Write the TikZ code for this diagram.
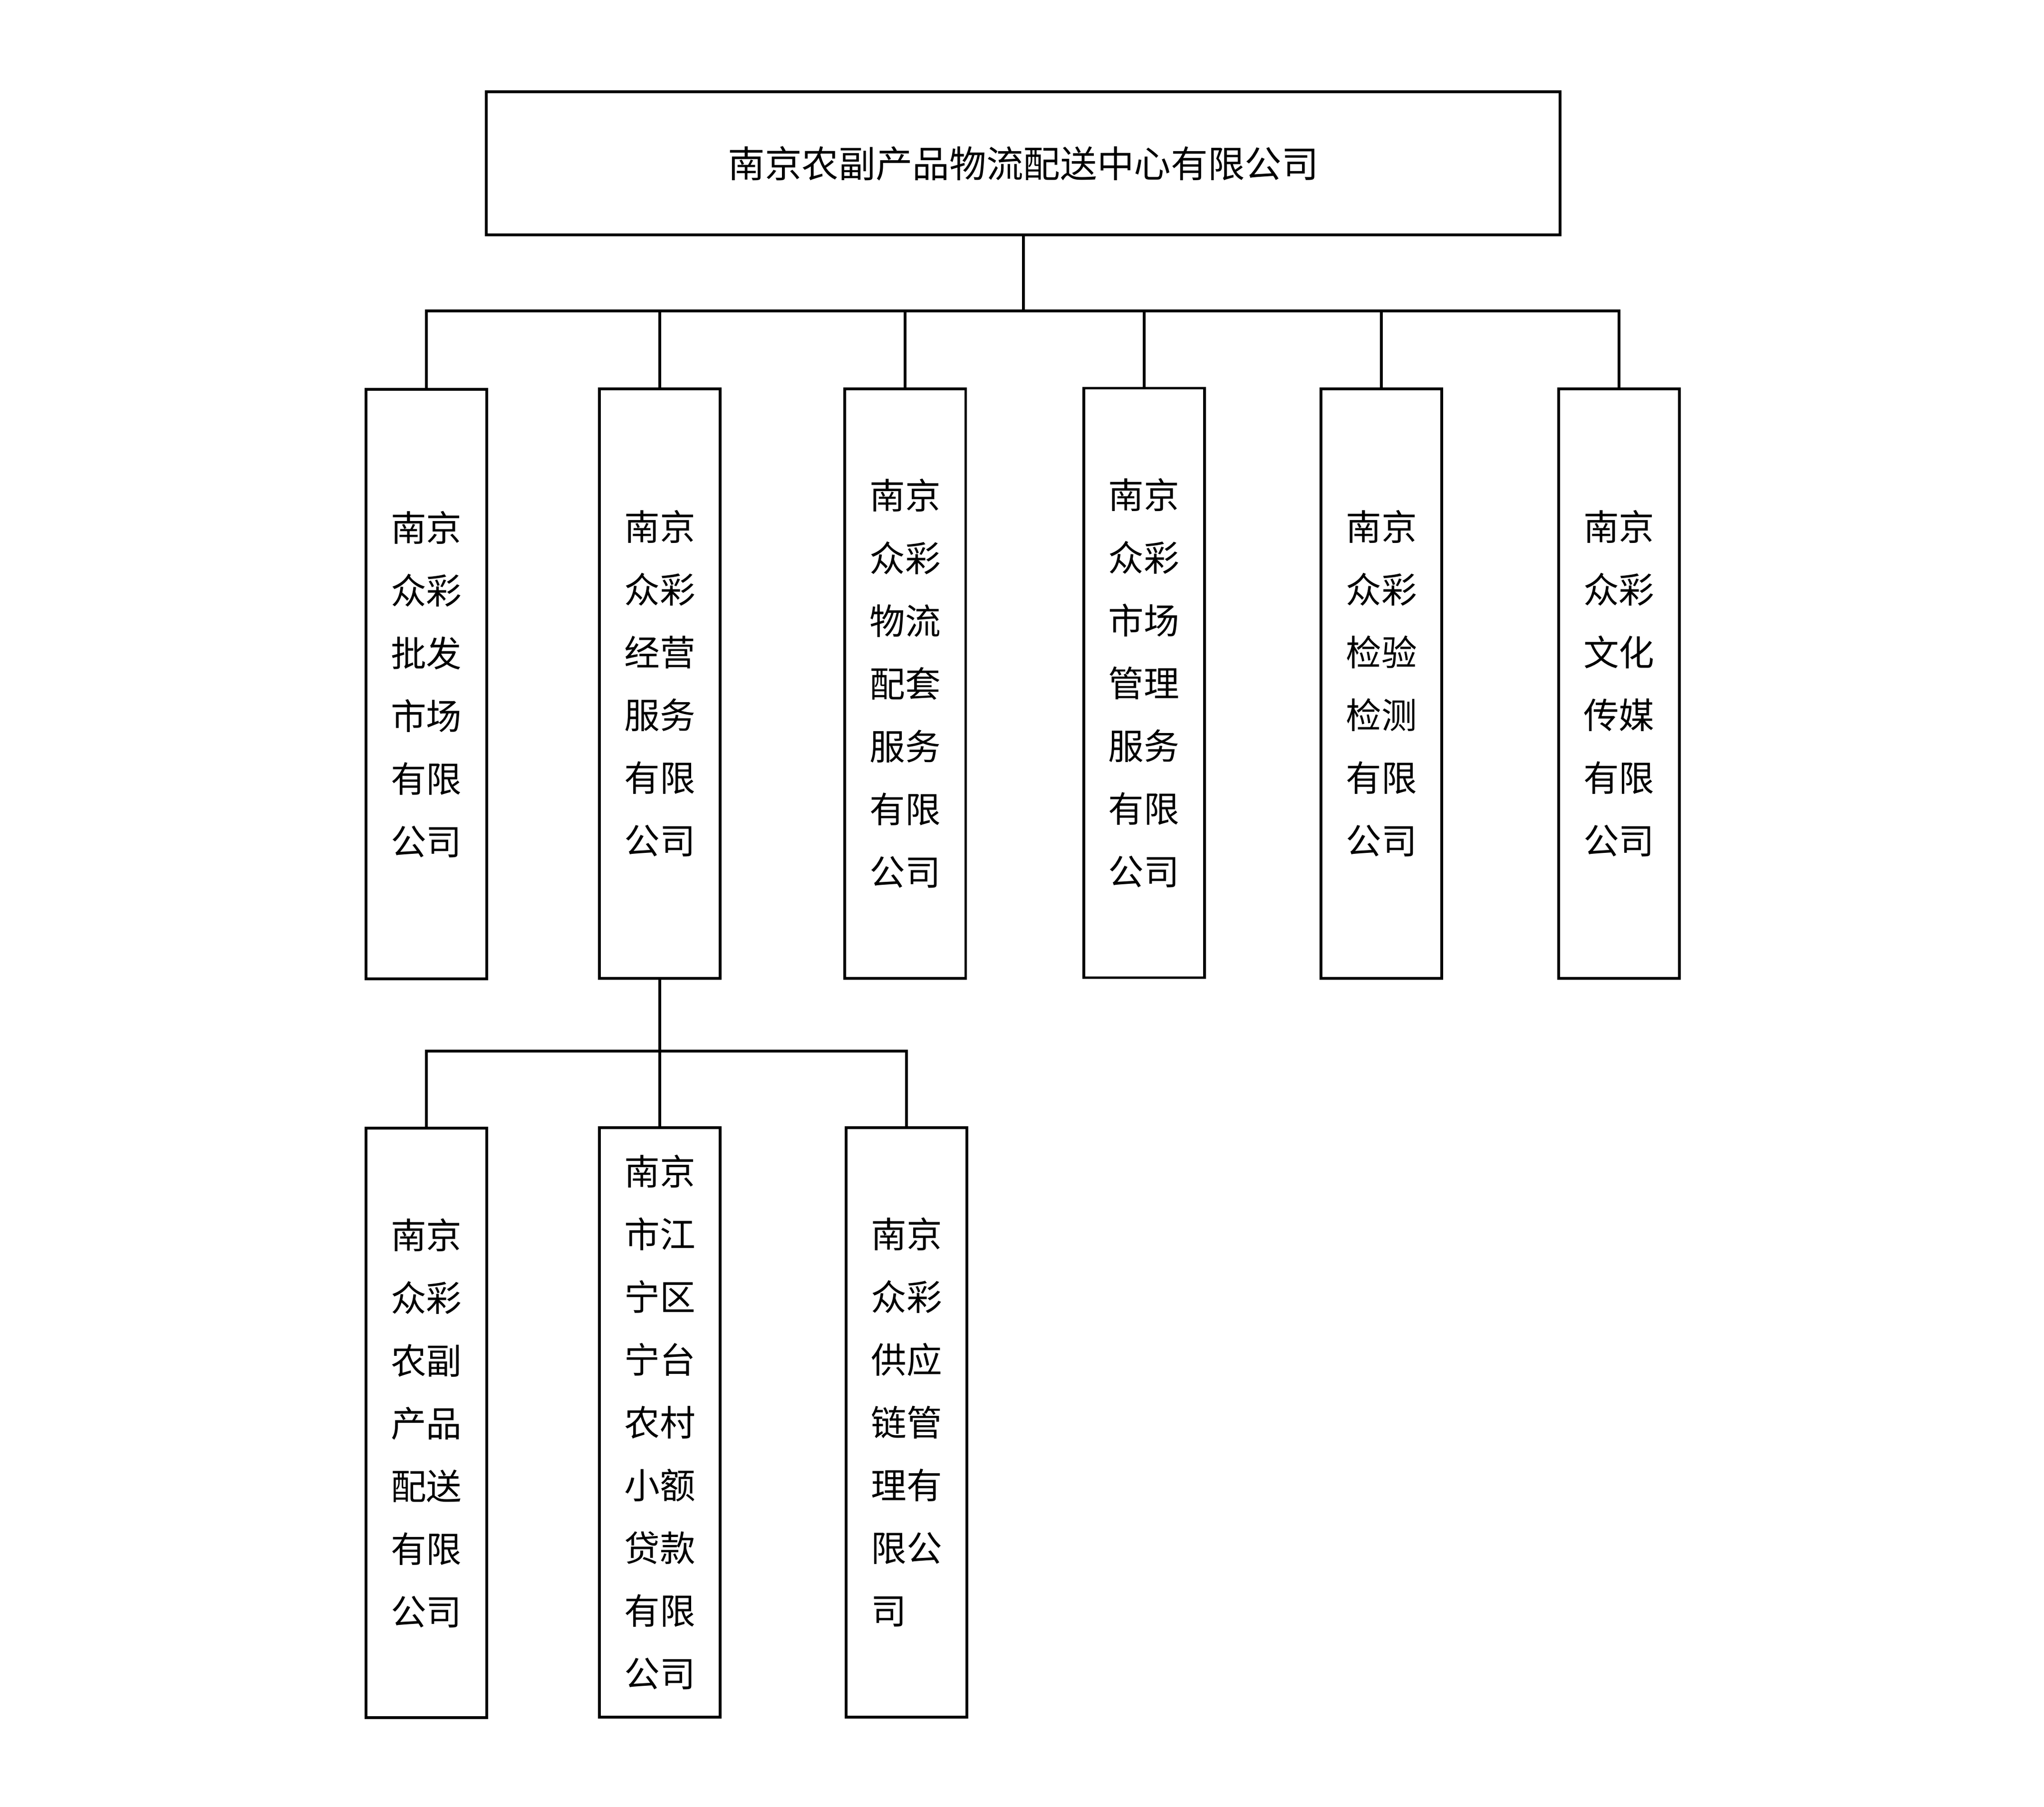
\documentclass[tikz,border=0pt]{standalone}
\usepackage{fontspec}
\newfontfamily\cjk{Noto Sans CJK SC}
\usetikzlibrary{positioning, calc}
\begin{document}
\begin{tikzpicture}[x=0.01cm, y=-0.01cm,
		  unit/.style = {rectangle, draw, line width = 0.6pt, minimum width = 0.92cm, minimum height = 4.49cm, align = left, inner sep = 0pt, font = \cjk\fontsize{7.7}{13.6}\selectfont},
		  head/.style = {rectangle, draw, line width = 0.6pt, minimum width = 8.18cm, minimum height = 1.09cm, font = \cjk\fontsize{8}{10}\selectfont},
		  link/.style = {line width = 0.6pt},
		]
		\useasboundingbox (0,0) rectangle (1558,1377);
		\node[head](Top) at (780,124.5){南京农副产品物流配送中心有限公司};

		\node[unit](C1) at (325,521.5){南京\\众彩\\批发\\市场\\有限\\公司};
		\node[unit](C2) at (503,521){南京\\众彩\\经营\\服务\\有限\\公司};
		\node[unit](C3) at (690,521){南京\\众彩\\物流\\配套\\服务\\有限\\公司};
		\node[unit](C4) at (872,520.5){南京\\众彩\\市场\\管理\\服务\\有限\\公司};
		\node[unit](C5) at (1053,521){南京\\众彩\\检验\\检测\\有限\\公司};
		\node[unit](C6) at (1234,521){南京\\众彩\\文化\\传媒\\有限\\公司};

		\node[unit](S1) at (325,1084.5){南京\\众彩\\农副\\产品\\配送\\有限\\公司};
		\node[unit](S2) at (503,1084){南京\\市江\\宁区\\宁台\\农村\\小额\\贷款\\有限\\公司};
		\node[unit](S3) at (691,1084){南京\\众彩\\供应\\链管\\理有\\限公\\司};

		\coordinate(BusTop) at (Top.south |- 0,237);
		\coordinate(BusSub) at (C2.south |- 0,801);

		\draw[link](Top.south)--(BusTop);
		\foreach \c in {C1, C2, C3, C4, C5, C6}
			\draw[link](BusTop) -| (\c.north);
		\draw[link](C2.south)--(BusSub);
		\foreach \s in {S1, S2, S3}
			\draw[link](BusSub) -| (\s.north);
\end{tikzpicture}
\end{document}
